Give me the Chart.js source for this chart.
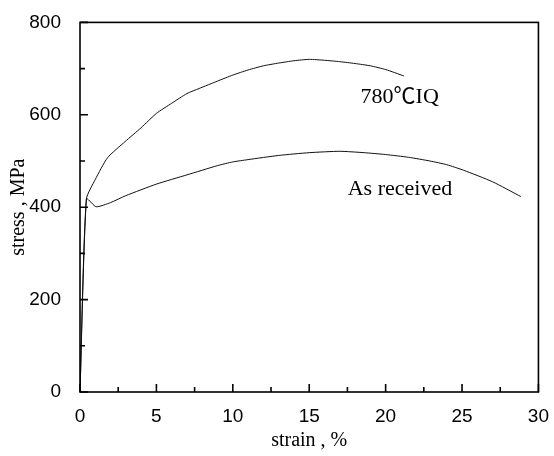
<!DOCTYPE html>
<html>
<head>
<meta charset="utf-8">
<script src="https://cdn.jsdelivr.net/npm/chart.js@4/dist/chart.umd.min.js"></script>
<style>
  html, body { margin: 0; padding: 0; background: #fff; }
  #wrap { width: 554px; height: 456px; }
</style>
</head>
<body>
<div id="wrap"><canvas id="stressChart" width="554" height="456"></canvas></div>
<script>
// As received curve
const strainAR = [0, 0.42, 1.05, 2, 3, 5, 7, 9, 10, 11, 13, 15, 17, 18.6, 20, 21.5, 22.9, 24, 25.1, 27, 28.85];
const stressAR = [0, 418, 401, 410, 425, 450, 470, 490, 498, 503, 512, 518, 521, 518, 514, 508, 500, 492, 480, 455, 423];

// 780 C IQ curve
const strainIQ = [0, 0.42, 1, 1.8, 2.95, 4, 5, 6, 7, 7.8, 9, 10, 11, 12, 13, 14, 15, 16, 17, 18, 19, 20, 21.2];
const stressIQ = [0, 418, 460, 507, 542, 572, 603, 625, 646, 657, 673, 686, 697, 706, 712, 717, 720, 718, 715, 711, 706, 698, 684];

const xTicks = [0, 5, 10, 15, 20, 25, 30];
const xMinor = [2.5, 7.5, 12.5, 17.5, 22.5, 27.5];
const yTicks = [0, 200, 400, 600, 800];
const yMinor = [100, 300, 500, 700];

// curve labels: [text, strain, stress] (left edge / baseline)
const curveLabels = [
  ["780\u2103IQ", 18.36, 625],
  ["As received", 17.52, 426],
];

const toPoints = (xs, ys) => xs.map((x, i) => ({ x: x, y: ys[i] }));

const frameAndTicks = {
  id: "frameAndTicks",
  afterDraw: function (chart) {
    const ctx = chart.ctx;
    const a = chart.chartArea;
    const xs = chart.scales.x;
    const ys = chart.scales.y;
    ctx.save();
    ctx.strokeStyle = "#000";
    ctx.lineWidth = 1.6;
    ctx.strokeRect(a.left, a.top, a.right - a.left, a.bottom - a.top);
    ctx.beginPath();
    xTicks.forEach((v) => {
      const px = xs.getPixelForValue(v);
      ctx.moveTo(px, a.bottom);
      ctx.lineTo(px, a.bottom - 8);
    });
    xMinor.forEach((v) => {
      const px = xs.getPixelForValue(v);
      ctx.moveTo(px, a.bottom);
      ctx.lineTo(px, a.bottom - 5);
    });
    yTicks.forEach((v) => {
      const py = ys.getPixelForValue(v);
      ctx.moveTo(a.left, py);
      ctx.lineTo(a.left + 8, py);
    });
    yMinor.forEach((v) => {
      const py = ys.getPixelForValue(v);
      ctx.moveTo(a.left, py);
      ctx.lineTo(a.left + 5, py);
    });
    ctx.stroke();

    ctx.fillStyle = "#000";
    ctx.font = "22px 'Liberation Serif', 'Noto Sans CJK SC', serif";
    ctx.textAlign = "left";
    ctx.textBaseline = "alphabetic";
    curveLabels.forEach((l) => {
      ctx.fillText(l[0], xs.getPixelForValue(l[1]), ys.getPixelForValue(l[2]));
    });
    ctx.restore();
  },
};

const ctx = document.getElementById("stressChart").getContext("2d");
new Chart(ctx, {
  type: "scatter",
  data: {
    datasets: [
      {
        label: "As received",
        data: toPoints(strainAR, stressAR),
        showLine: true,
        borderColor: "#111",
        borderWidth: 1,
        pointRadius: 0,
        tension: 0.2,
      },
      {
        label: "780\u2103IQ",
        data: toPoints(strainIQ, stressIQ),
        showLine: true,
        borderColor: "#111",
        borderWidth: 1,
        pointRadius: 0,
        tension: 0.2,
      },
    ],
  },
  options: {
    responsive: false,
    animation: false,
    layout: { padding: { top: 15, right: 11, left: 0, bottom: 0 } },
    plugins: {
      legend: { display: false },
      tooltip: { enabled: false },
    },
    scales: {
      x: {
        type: "linear",
        min: 0,
        max: 30,
        afterFit: (scale) => { scale.height = 64; },
        afterBuildTicks: (scale) => { scale.ticks = xTicks.map((v) => ({ value: v })); },
        grid: { display: false },
        border: { display: false },
        ticks: {
          color: "#000",
          padding: 5,
          maxRotation: 0,
          font: { family: "'Liberation Sans', Arial, sans-serif", size: 19 },
        },
        title: {
          display: true,
          text: "strain , %",
          color: "#000",
          padding: { top: 0, bottom: 3 },
          font: { family: "'Liberation Serif', 'Times New Roman', serif", size: 20 },
        },
      },
      y: {
        type: "linear",
        min: 0,
        max: 800,
        afterFit: (scale) => { scale.width = 80; },
        afterBuildTicks: (scale) => { scale.ticks = yTicks.map((v) => ({ value: v })); },
        grid: { display: false },
        border: { display: false },
        ticks: {
          color: "#000",
          padding: 11,
          font: { family: "'Liberation Sans', Arial, sans-serif", size: 19 },
        },
        title: {
          display: true,
          text: "stress , MPa",
          color: "#000",
          padding: { top: 7, bottom: 0 },
          font: { family: "'Liberation Serif', 'Times New Roman', serif", size: 20 },
        },
      },
    },
  },
  plugins: [frameAndTicks],
});
</script>
</body>
</html>
